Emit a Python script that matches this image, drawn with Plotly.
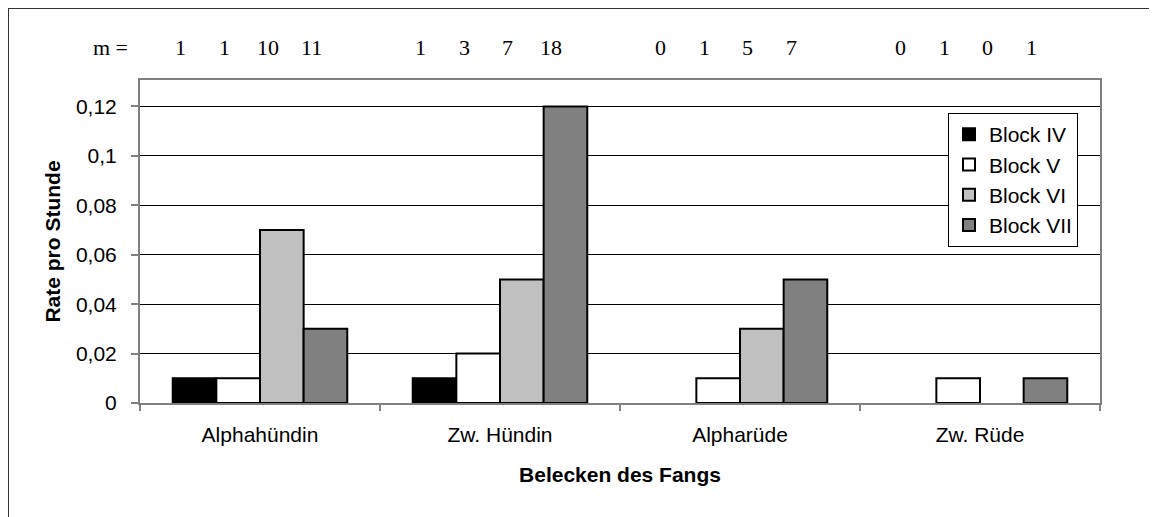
import plotly.graph_objects as go

categories = ["Alphahündin", "Zw. Hündin", "Alpharüde", "Zw. Rüde"]
series_names = ["Block IV", "Block V", "Block VI", "Block VII"]
block_iv = [0.01, 0.01, 0.0, 0.0]
block_v = [0.01, 0.02, 0.01, 0.01]
block_vi = [0.07, 0.05, 0.03, 0.0]
block_vii = [0.03, 0.12, 0.05, 0.01]
m_iv = [1, 1, 0, 0]
m_v = [1, 3, 1, 1]
m_vi = [10, 7, 5, 0]
m_vii = [11, 18, 7, 1]
y_ticks = [0, 0.02, 0.04, 0.06, 0.08, 0.1, 0.12]

series_values = [block_iv, block_v, block_vi, block_vii]
m_values = [m_iv, m_v, m_vi, m_vii]
colors = ["#000000", "#FFFFFF", "#C0C0C0", "#808080"]

# page body has an 8px margin; figure is laid out in page coordinates minus 8
OFF = 8
W, H = 1157 - OFF, 517 - OFF
ML, MT = 140 - OFF, 80 - OFF
MR = W - (1100 - OFF)
MB = H - (403 - OFF)
pw, ph = W - ML - MR, H - MT - MB

def px_x(x):
    return (x - OFF - ML) / pw

def px_y(y):
    return 1 - (y - OFF - MT) / ph

SANS = "Liberation Sans, Arial, sans-serif"
SERIF = "Liberation Serif, Times New Roman, serif"
FS = 21

fig = go.Figure()
for j, (name, vals, col) in enumerate(zip(series_names, series_values, colors)):
    fig.add_trace(go.Bar(
        x=categories, y=vals, name=name,
        marker=dict(color=col,
                    line=dict(color="#000000", width=[2 if v > 0 else 0 for v in vals])),
        legendgroup=name,
    ))

bar_frac = 1 / 5.5
annotations = [dict(text="m =", xref="paper", yref="paper", x=px_x(110), y=px_y(48),
                    showarrow=False, font=dict(family=SERIF, size=22, color="black"),
                    xanchor="center", yanchor="middle")]
for j, mv in enumerate(m_values):
    for i, v in enumerate(mv):
        annotations.append(dict(
            text=str(v), xref="x", yref="paper",
            x=i + (j - 1.5) * bar_frac, y=px_y(48), xshift=-14,
            showarrow=False, font=dict(family=SERIF, size=22, color="black"),
            xanchor="center", yanchor="middle"))

fig.update_layout(
    width=W, height=H,
    margin=dict(l=ML, r=MR, t=MT, b=MB),
    paper_bgcolor="white", plot_bgcolor="white",
    separators=",.",
    barmode="group", bargap=1.5 / 5.5, bargroupgap=0,
    font=dict(family=SANS, size=FS, color="black"),
    showlegend=True,
    legend=dict(x=px_x(1078), y=px_y(113), xanchor="right", yanchor="top",
                bordercolor="black", borderwidth=1, bgcolor="white",
                font=dict(family=SANS, size=FS, color="black"),
                tracegroupgap=13, traceorder="normal"),
    annotations=annotations,
    shapes=[dict(type="rect", xref="paper", yref="paper",
                 x0=px_x(8), x1=2, y0=-1, y1=px_y(8),
                 line=dict(color="#333333", width=2), fillcolor="rgba(0,0,0,0)")],
    xaxis=dict(
        type="category", tickson="boundaries", ticks="outside", ticklen=6,
        tickcolor="#808080", tickwidth=2, ticklabelstandoff=12,
        showline=True, linecolor="#808080", linewidth=2, mirror=True,
        showgrid=False, tickfont=dict(family=SANS, size=FS),
        title=dict(text="<b>Belecken des Fangs</b>", font=dict(family=SANS, size=FS), standoff=22),
    ),
    yaxis=dict(
        range=[0, 0.1307], tickvals=y_ticks, ticks="outside", ticklen=7,
        tickcolor="#808080", tickwidth=2, ticklabelstandoff=10,
        showline=True, linecolor="#808080", linewidth=2, mirror=True,
        showgrid=True, gridcolor="#000000", gridwidth=1,
        zeroline=False, tickfont=dict(family=SANS, size=FS),
        title=dict(text="<b>Rate pro Stunde</b>", font=dict(family=SANS, size=FS), standoff=10),
    ),
)

fig.write_html("out.html")
